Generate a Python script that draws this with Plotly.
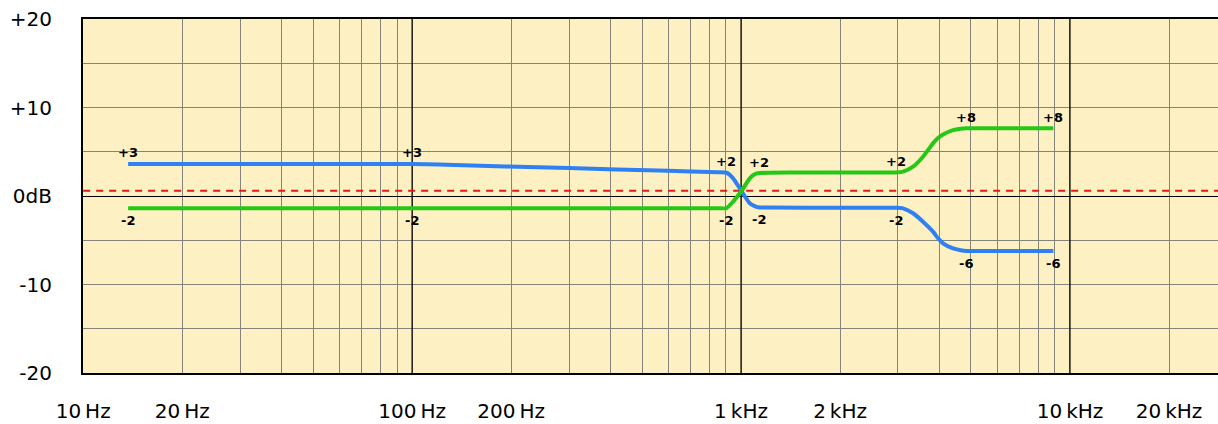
import numpy as np
import plotly.graph_objects as go

# ---- data ----
blue_freq = [13.7, 40, 85, 100, 120, 300, 600, 850, 903, 946, 1003, 1063, 1100, 1126, 1200,
             2000, 2950, 3108, 3333, 3574, 3833, 3971, 4111, 4409, 4650, 4843, 5200, 8900]
blue_db = [3.62, 3.62, 3.62, 3.62, 3.55, 3.15, 2.85, 2.68, 2.63, 2.0, 0.56, -0.82, -1.15, -1.28, -1.31,
           -1.32, -1.33, -1.40, -1.95, -2.90, -4.03, -4.78, -5.35, -5.92, -6.12, -6.21, -6.21, -6.21]

green_freq = [13.7, 100, 500, 850, 903, 946, 1003, 1063, 1100, 1126, 1200, 1400,
              2000, 2950, 3108, 3333, 3574, 3833, 3971, 4111, 4409, 4650, 4843, 5200, 8900]
green_db = [-1.39, -1.39, -1.39, -1.39, -1.36, -0.64, 0.56, 2.0, 2.45, 2.56, 2.63, 2.66,
            2.66, 2.66, 2.75, 3.31, 4.44, 5.95, 6.55, 6.95, 7.45, 7.60, 7.65, 7.65, 7.65]

ref_level_db = 0.6

label_freq = [13.7, 100, 897, 1136, 2963, 4843, 8900]
top_text = ["+3", "+3", "+2", "+2", "+2", "+8", "+8"]
bottom_text = ["-2", "-2", "-2", "-2", "-2", "-6", "-6"]

x_tick_labels = {10: "10\u2009Hz", 20: "20\u2009Hz", 100: "100\u2009Hz", 200: "200\u2009Hz",
                 1000: "1\u2009kHz", 2000: "2\u2009kHz", 10000: "10\u2009kHz", 20000: "20\u2009kHz"}
y_tick_vals = [-20, -15, -10, -5, 0, 5, 10, 15, 20]
y_tick_text = ["-20", "", "-10", "", "0dB", "", "+10", "", "+20"]
decades = [10, 100, 1000, 10000]

# ---- layout constants ----
X_MIN_LOG, X_MAX_LOG = 1.0, 4.45
Y_MIN, Y_MAX = -20, 20
W, H = 1218, 424
FONT = "DejaVu Sans"
GRID = "#86847a"

x_tick_vals = [d * m for d in decades for m in range(1, 10) if np.log10(d * m) <= X_MAX_LOG]
x_tick_text = [x_tick_labels.get(v, "") for v in x_tick_vals]

fig = go.Figure()

# decade lines (black)
for d in decades[1:]:
    fig.add_trace(go.Scatter(x=[d, d], y=[Y_MIN, Y_MAX], mode="lines",
                             line=dict(color="black", width=1.2), hoverinfo="skip", showlegend=False))

# reference dashed line
fig.add_trace(go.Scatter(x=[10 ** X_MIN_LOG, 10 ** X_MAX_LOG], y=[ref_level_db, ref_level_db],
                         mode="lines", line=dict(color="#dd1a1a", width=2, dash="7px,6px"),
                         hoverinfo="skip", showlegend=False))

fig.add_trace(go.Scatter(x=blue_freq, y=blue_db, mode="lines",
                         line=dict(color="#2f80f2", width=4, shape="spline", smoothing=0.6),
                         showlegend=False))
fig.add_trace(go.Scatter(x=green_freq, y=green_db, mode="lines",
                         line=dict(color="#26c816", width=4, shape="spline", smoothing=0.6),
                         showlegend=False))

# point labels
lb = np.log10(blue_freq)
lg = np.log10(green_freq)
for f, tt, bt in zip(label_freq, top_text, bottom_text):
    lf = np.log10(f)
    vb = float(np.interp(lf, lb, blue_db))
    vg = float(np.interp(lf, lg, green_db))
    fnt = dict(family=FONT, size=13, color="black", weight="bold")
    fig.add_annotation(x=lf, y=max(vb, vg), text=tt, showarrow=False, yshift=11, font=fnt)
    fig.add_annotation(x=lf, y=min(vb, vg), text=bt, showarrow=False, yshift=-12.5, font=fnt)

fig.update_layout(
    width=W, height=H,
    margin=dict(l=83, r=0, t=19, b=51),
    paper_bgcolor="white",
    plot_bgcolor="#fdf0c2",
    font=dict(family=FONT, size=20, color="black"),
    xaxis=dict(type="log", range=[X_MIN_LOG - 0.0005, X_MAX_LOG], automargin=False,
               tickmode="array", tickvals=x_tick_vals, ticktext=x_tick_text,
               showgrid=True, gridcolor=GRID, gridwidth=1,
               showline=True, linecolor="black", linewidth=2, mirror=True,
               ticks="", ticklabelstandoff=19, zeroline=False,
               tickfont=dict(family=FONT, size=20)),
    yaxis=dict(range=[Y_MIN, Y_MAX], automargin=False,
               tickmode="array", tickvals=y_tick_vals, ticktext=y_tick_text,
               showgrid=True, gridcolor=GRID, gridwidth=1,
               zeroline=True, zerolinecolor="black", zerolinewidth=1.2,
               showline=True, linecolor="black", linewidth=2, mirror=False,
               ticks="", ticklabelstandoff=25,
               tickfont=dict(family=FONT, size=20)),
)

fig.write_html("out.html", config={"displayModeBar": False},
               post_script="document.body.style.margin='0';document.body.style.overflow='hidden';")
